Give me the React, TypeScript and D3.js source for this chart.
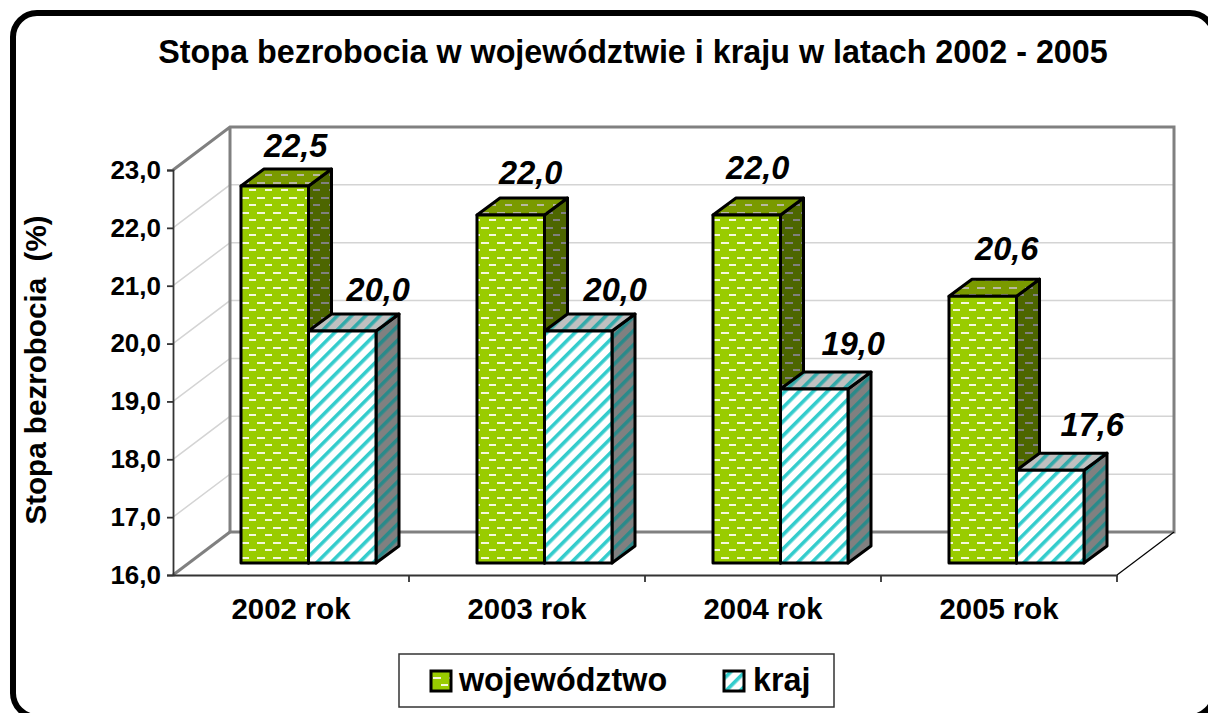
import React, { useEffect, useRef } from 'react';
import * as d3 from 'd3';

const categories = ['2002 rok', '2003 rok', '2004 rok', '2005 rok'];
const wojewodztwo = [22.5, 22.0, 22.0, 20.6];
const kraj = [20.0, 20.0, 19.0, 17.6];
const yTicks = [16, 17, 18, 19, 20, 21, 22, 23];
const seriesNames = ['województwo', 'kraj'];

const W = 1208;
const H = 713;
const FONT = '"Liberation Sans", Arial, sans-serif';
const fmt = (v: number) => v.toFixed(1).replace('.', ',');

// fake 3d box offsets
const wallDx = 57;
const wallDy = 43;
const barDx = 23;
const barDy = 17;
const barLift = 12; // bars stand a bit behind the front edge of the floor

// label tweaks, the original chart had them dragged around by hand
const labelGapW = [12, 14, 19, 19];
const labelGapK = [13, 13, 17, 17];
const labelShiftW = [-2, -3, -12, 1];
const labelShiftK = [13, 14, 16, 19];

const App = () => {
    const svgRef = useRef<SVGSVGElement>(null);

    useEffect(() => {
        const svg = d3.select(svgRef.current);
        svg.selectAll('*').remove();

        const x0 = d3.scaleBand<string>().domain(categories).range([173, 1117]);
        const y = d3.scaleLinear().domain([16, 23]).range([575, 170]);
        const inner = d3.scaleBand<string>().domain(seriesNames).range([68, 203]);
        const barH = (v: number) => (v - 16) * 58;
        const baseY = y(16) - barLift;

        // patterns
        const defs = svg.append('defs');
        const dashPattern = (id: string, bg: string, fg: string) => {
            const p = defs
                .append('pattern')
                .attr('id', id)
                .attr('patternUnits', 'userSpaceOnUse')
                .attr('width', 16)
                .attr('height', 15);
            p.append('rect').attr('width', 16).attr('height', 15).attr('fill', bg);
            p.append('rect').attr('x', 1).attr('y', 2).attr('width', 8).attr('height', 2).attr('fill', fg);
            p.append('rect').attr('x', 9).attr('y', 9).attr('width', 7).attr('height', 2).attr('fill', fg);
        };
        const stripePattern = (id: string, bg: string, fg: string) => {
            const p = defs
                .append('pattern')
                .attr('id', id)
                .attr('patternUnits', 'userSpaceOnUse')
                .attr('width', 10)
                .attr('height', 10)
                .attr('patternTransform', 'rotate(45)');
            p.append('rect').attr('width', 10).attr('height', 10).attr('fill', bg);
            p.append('rect').attr('width', 3.6).attr('height', 10).attr('fill', fg);
        };
        dashPattern('gFront', '#99cc00', '#f4f8dc');
        dashPattern('gTop', '#7a9a00', '#b8b8a0');
        dashPattern('gSide', '#4d6600', '#808080');
        stripePattern('cFront', '#ffffff', '#33cccc');
        stripePattern('cTop', '#c0c0c0', '#33aaaa');
        stripePattern('cSide', '#808080', '#2a8a8a');

        // frame, the bottom edge runs off the page
        svg
            .append('rect')
            .attr('x', 13)
            .attr('y', 13)
            .attr('width', 1201)
            .attr('height', 704)
            .attr('rx', 24)
            .attr('fill', '#fff')
            .attr('stroke', '#000')
            .attr('stroke-width', 6);

        svg
            .append('text')
            .attr('x', 633)
            .attr('y', 63)
            .attr('text-anchor', 'middle')
            .attr('font-size', 32.3)
            .attr('font-weight', 'bold')
            .text('Stopa bezrobocia w województwie i kraju w latach 2002 - 2005');

        // gridlines on back + side wall
        const grid = svg.append('g').attr('fill', 'none').attr('stroke', '#d4d4d4').attr('stroke-width', 1.5);
        yTicks.slice(1, -1).forEach(t => {
            grid
                .append('path')
                .attr('d', `M173,${y(t)}L${173 + wallDx},${y(t) - wallDy}L${1117 + wallDx},${y(t) - wallDy}`);
        });

        // walls
        const wall = svg.append('g').attr('fill', 'none').attr('stroke', '#808080').attr('stroke-width', 3);
        wall.append('path').attr('d', `M173,${y(23)}L${173 + wallDx},${y(23) - wallDy}H${1117 + wallDx}V${y(16) - wallDy}H${173 + wallDx}V${y(23) - wallDy}`);
        wall.append('path').attr('d', `M173,${y(16)}L${173 + wallDx},${y(16) - wallDy}`);
        svg
            .append('path')
            .attr('d', `M1117,${y(16)}L${1117 + wallDx},${y(16) - wallDy}`)
            .attr('stroke', '#000')
            .attr('stroke-width', 1.2)
            .attr('fill', 'none');

        // axes
        const axisY = svg
            .append('g')
            .attr('transform', 'translate(173,0)')
            .call(d3.axisLeft(y).tickValues(yTicks).tickFormat(d => fmt(+d)).tickSize(6).tickPadding(6));
        const axisX = svg
            .append('g')
            .attr('transform', `translate(0,${y(16)})`)
            .call(d3.axisBottom(x0).tickSize(0).tickPadding(23));
        [axisY, axisX].forEach(a => {
            a.selectAll('path,line').attr('stroke', '#333').attr('stroke-width', 1.8);
            a.selectAll('text')
                .attr('font-family', FONT)
                .attr('font-weight', 'bold')
                .attr('fill', '#000');
        });
        axisY.selectAll('text').attr('font-size', 26);
        axisX.selectAll('text').attr('font-size', 29.3);
        axisX
            .selectAll('line.sep')
            .data(x0.domain().map(c => (x0(c) as number) + x0.bandwidth()))
            .join('line')
            .attr('class', 'sep')
            .attr('x1', d => d)
            .attr('x2', d => d)
            .attr('y1', 0)
            .attr('y2', 7)
            .attr('stroke', '#333')
            .attr('stroke-width', 1.8);

        // bars, drawn left to right so the nearer boxes overlap
        const drawBar = (cat: string, name: string, v: number, prefix: string) => {
            const bx = (x0(cat) as number) + (inner(name) as number);
            const bw = inner.bandwidth();
            const top = baseY - barH(v);
            const g = svg.append('g').attr('stroke', '#000').attr('stroke-width', 3).attr('stroke-linejoin', 'round');
            g.append('path')
                .attr('d', `M${bx + bw},${top}l${barDx},${-barDy}V${baseY - barDy}l${-barDx},${barDy}Z`)
                .attr('fill', `url(#${prefix}Side)`);
            g.append('path')
                .attr('d', `M${bx},${top}l${barDx},${-barDy}h${bw}l${-barDx},${barDy}Z`)
                .attr('fill', `url(#${prefix}Top)`);
            g.append('rect')
                .attr('x', bx)
                .attr('y', top)
                .attr('width', bw)
                .attr('height', barH(v))
                .attr('fill', `url(#${prefix}Front)`);
        };
        categories.forEach((c, i) => {
            drawBar(c, seriesNames[0], wojewodztwo[i], 'g');
            drawBar(c, seriesNames[1], kraj[i], 'c');
        });

        // value labels
        const label = (cat: string, name: string, v: number, gap: number, shift: number) => {
            const bx = (x0(cat) as number) + (inner(name) as number);
            svg
                .append('text')
                .attr('x', bx + inner.bandwidth() / 2 + barDx + shift)
                .attr('y', baseY - barH(v) - barDy - gap)
                .attr('text-anchor', 'middle')
                .attr('font-size', 32.5)
                .attr('font-weight', 'bold')
                .attr('font-style', 'italic')
                .text(fmt(v));
        };
        categories.forEach((c, i) => {
            label(c, seriesNames[0], wojewodztwo[i], labelGapW[i], labelShiftW[i]);
            label(c, seriesNames[1], kraj[i], labelGapK[i], labelShiftK[i]);
        });

        // y title
        svg
            .append('text')
            .attr('transform', 'translate(46,370) rotate(-90)')
            .attr('text-anchor', 'middle')
            .attr('font-size', 29.6)
            .attr('font-weight', 'bold')
            .style('white-space', 'pre')
            .text('Stopa bezrobocia  (%)');

        // legend
        const legend = svg.append('g');
        legend
            .append('rect')
            .attr('x', 399)
            .attr('y', 654)
            .attr('width', 435)
            .attr('height', 53)
            .attr('fill', '#fff')
            .attr('stroke', '#333')
            .attr('stroke-width', 1.5);
        const keyX = [431, 724];
        const textX = [459, 753];
        const keyFill = ['url(#gFront)', 'url(#cFront)'];
        seriesNames.forEach((n, i) => {
            legend
                .append('rect')
                .attr('x', keyX[i])
                .attr('y', 671)
                .attr('width', 20)
                .attr('height', 20)
                .attr('fill', keyFill[i])
                .attr('stroke', '#000')
                .attr('stroke-width', 3);
            legend
                .append('text')
                .attr('x', textX[i])
                .attr('y', 691)
                .attr('font-size', 32.3)
                .attr('font-weight', 'bold')
                .text(n);
        });
    }, []);

    return (
        <svg
            ref={svgRef}
            width={W}
            height={H}
            fontFamily={FONT}
            style={{ position: 'absolute', left: 0, top: 0 }}
        ></svg>
    );
};

export default App;
